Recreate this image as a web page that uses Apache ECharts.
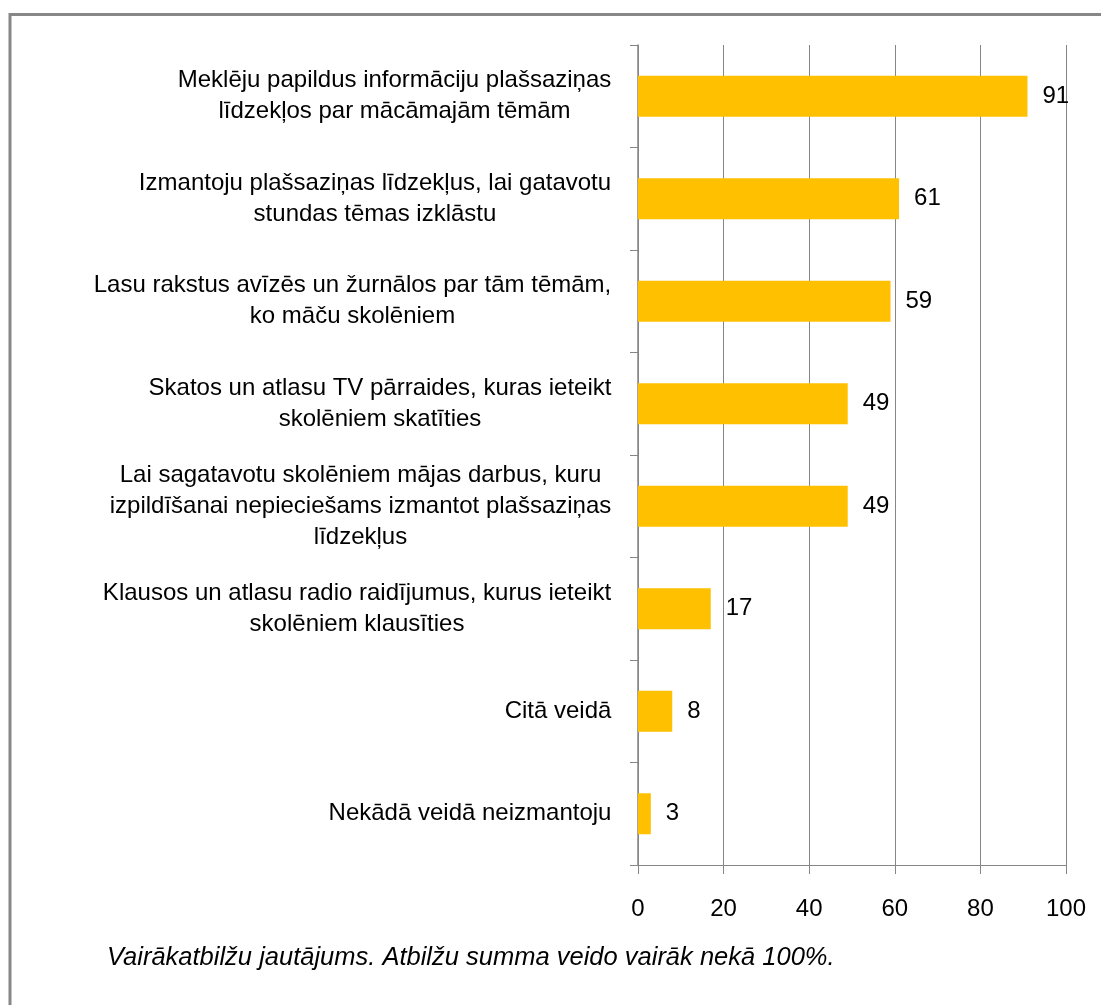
<!DOCTYPE html>
<html>
<head>
<meta charset="utf-8">
<script src="https://cdn.jsdelivr.net/npm/echarts@6/dist/echarts.min.js"></script>
<style>
  html, body { margin: 0; padding: 0; background: #fff; }
  #chart { width: 1101px; height: 1005px; }
</style>
</head>
<body>
<div id="chart"></div>
<script>
// Survey answers: how teachers use mass media (percent of respondents)
const categories = [
  'Meklēju papildus informāciju plašsaziņas\nlīdzekļos par mācāmajām tēmām',
  'Izmantoju plašsaziņas līdzekļus, lai gatavotu\nstundas tēmas izklāstu',
  'Lasu rakstus avīzēs un žurnālos par tām tēmām,\nko māču skolēniem',
  'Skatos un atlasu TV pārraides, kuras ieteikt\nskolēniem skatīties',
  'Lai sagatavotu skolēniem mājas darbus, kuru\nizpildīšanai nepieciešams izmantot plašsaziņas\nlīdzekļus',
  'Klausos un atlasu radio raidījumus, kurus ieteikt\nskolēniem klausīties',
  'Citā veidā',
  'Nekādā veidā neizmantoju'
];
const values = [91, 61, 59, 49, 49, 17, 8, 3];
const footnote = 'Vairākatbilžu jautājums. Atbilžu summa veido vairāk nekā 100%.';

const FONT = '"Liberation Sans", Arial, sans-serif';
const FONT_SIZE = 24;

// Each category label is a right-aligned block whose lines are centred,
// so every label gets a rich style as wide as its longest line.
const measureCtx = document.createElement('canvas').getContext('2d');
measureCtx.font = FONT_SIZE + 'px ' + FONT;
const labelRich = {};
categories.forEach((c, i) => {
  const w = Math.max(...c.split('\n').map(l => measureCtx.measureText(l).width));
  labelRich['c' + i] = {
    width: Math.ceil(w) + 1,
    align: 'center',
    fontSize: FONT_SIZE,
    fontFamily: FONT,
    color: '#000',
    lineHeight: 31
  };
});

const chart = echarts.init(document.getElementById('chart'), null, { renderer: 'canvas' });
chart.setOption({
  animation: false,
  backgroundColor: '#ffffff',
  grid: { left: 638, right: 35, top: 45, bottom: 140, containLabel: false },
  xAxis: {
    type: 'value',
    min: 0,
    max: 100,
    interval: 20,
    axisLine: { show: true, lineStyle: { color: '#868686', width: 1 } },
    axisTick: { show: true, length: 9, lineStyle: { color: '#868686', width: 1 } },
    splitLine: { show: true, lineStyle: { color: '#868686', width: 1 } },
    axisLabel: { margin: 32, fontSize: FONT_SIZE, fontFamily: FONT, color: '#000' }
  },
  yAxis: {
    type: 'category',
    inverse: true,
    data: categories,
    axisLine: { show: true, lineStyle: { color: '#868686', width: 1.5 } },
    axisTick: { show: true, length: 8, lineStyle: { color: '#868686', width: 1 } },
    axisLabel: {
      margin: 26,
      align: 'right',
      formatter: (value, idx) => value.split('\n').map(l => '{c' + idx + '|' + l + '}').join('\n'),
      rich: labelRich
    }
  },
  series: [{
    type: 'bar',
    data: values,
    barCategoryGap: '60%',
    itemStyle: { color: '#FFC000' },
    label: {
      show: true,
      position: 'right',
      distance: 15,
      fontSize: FONT_SIZE,
      fontFamily: FONT,
      color: '#000'
    }
  }],
  graphic: [
    {
      type: 'rect',
      silent: true,
      shape: { x: 10, y: 14.5, width: 1200, height: 1100 },
      style: { fill: 'none', stroke: '#878787', lineWidth: 3 }
    },
    {
      type: 'text',
      left: 107,
      top: 945,
      style: {
        text: footnote,
        fontSize: 25.5,
        fontStyle: 'italic',
        fontFamily: FONT,
        fill: '#000'
      }
    }
  ]
});
</script>
</body>
</html>
